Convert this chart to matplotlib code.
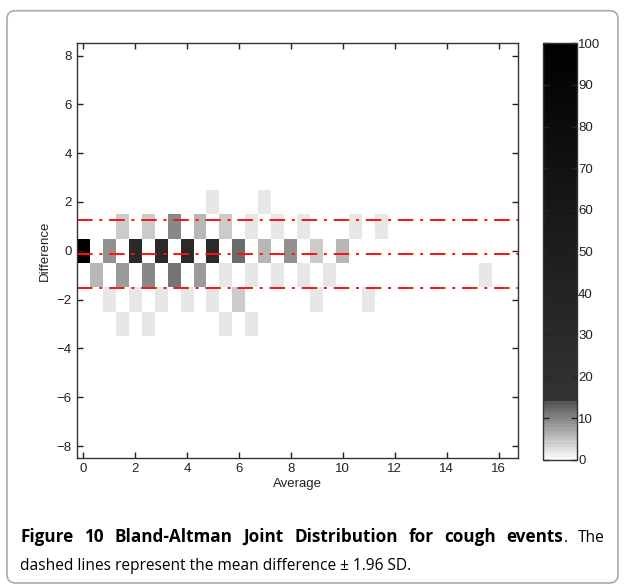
import numpy as np
import matplotlib
matplotlib.use("Agg")
import matplotlib.pyplot as plt
from matplotlib.colors import ListedColormap
from matplotlib.patches import FancyBboxPatch

# joint distribution cells: average, difference, count
avg = [0, 0.5, 1, 1, 1.5, 1.5, 1.5, 2, 2, 2.5, 2.5, 2.5, 3, 3, 3.5, 3.5,
       4, 4, 4.5, 4.5, 5, 5, 5, 5.5, 5.5, 5.5, 6, 6, 6.5, 6.5, 6.5, 7, 7,
       7.5, 7.5, 8, 8.5, 8.5, 9, 9, 9.5, 10, 10.5, 11, 11.5, 15.5]
diff = [0, -1, 0, -2, 1, -1, -3, 0, -2, 1, -1, -3, 0, -2, 1, -1,
        0, -2, 1, -1, 2, 0, -2, 1, -1, -3, 0, -2, 1, -1, -3, 2, 0,
        1, -1, 0, 1, -1, 0, -2, -1, 0, 1, -2, 1, -1]
count = [100, 6, 9, 2, 4, 8, 2, 29, 2, 4, 10, 2, 29, 2, 10, 11,
         29, 2, 6, 8, 2, 29, 2, 4, 2, 2, 12, 4, 2, 2, 2, 2, 6,
         2, 2, 9, 2, 2, 4, 2, 2, 6, 2, 2, 2, 2]

# limits of agreement (mean diff +/- 1.96 SD)
mean_diff = -0.12
upper_loa = 1.28
lower_loa = -1.52

x_ticks = list(range(0, 17, 2))
y_ticks = list(range(-8, 9, 2))
cbar_ticks = list(range(0, 101, 10))

# gray map: stepped light ramp up to ~14, then dark to black
n = 128
vals = (np.arange(n) + 0.5) / n * 100
g = np.where(vals <= 14.4, 1 - 0.67 * vals / 14.0, 0.2 * (100 - vals) / 86.0)
g = np.clip(g, 0, 1)
cmap = ListedColormap(np.stack([g, g, g], axis=1))

# grid of cells
xe = np.arange(-0.25, 16.76, 0.5)
ye = np.arange(-8.5, 8.51, 1.0)
Z = np.full((len(ye) - 1, len(xe) - 1), np.nan)
for a, d, c in zip(avg, diff, count):
    Z[int(round(d + 8)), int(round(a * 2))] = c
Z = np.ma.masked_invalid(Z)

plt.rcParams['font.family'] = ['Liberation Sans', 'DejaVu Sans']

fig = plt.figure(figsize=(6.24, 5.87), dpi=100)
ax = fig.add_axes([76.7 / 624, 1 - 458.3 / 587, (518 - 76.7) / 624, (458.3 - 43.3) / 587])
mesh = ax.pcolormesh(xe, ye, Z, cmap=cmap, vmin=0, vmax=100, edgecolors='none')

for yv in (upper_loa, mean_diff, lower_loa):
    ax.axhline(yv, color='#ff1010', lw=1.4, dashes=(8, 3.5, 1.5, 3.5))

ax.set_xlim(-0.25, 16.75)
ax.set_ylim(-8.5, 8.5)
ax.set_xticks(x_ticks)
ax.set_yticks(y_ticks)
ax.tick_params(direction='in', top=True, right=True, length=4, width=1,
               labelsize=9.5, color='#222222', labelcolor='#222222')
for s in ax.spines.values():
    s.set_color('#333333')
    s.set_linewidth(1)
ax.set_xlabel('Average', fontsize=9.5, color='#222222', labelpad=2)
ax.set_ylabel('Difference', fontsize=9.5, color='#222222', labelpad=4)

cax = fig.add_axes([543.3 / 624, 1 - 460 / 587, (576.7 - 543.3) / 624, (460 - 43.3) / 587])
cb = fig.colorbar(mesh, cax=cax, ticks=cbar_ticks)
cb.outline.set_color('#333333')
cb.outline.set_linewidth(1)
cax.tick_params(direction='in', left=True, right=True, length=4, width=1,
                labelsize=9.5, color='#222222', labelcolor='#222222', pad=1)

# rounded frame
frame = FancyBboxPatch((7 / 624, 1 - 583 / 587), (618 - 7) / 624, (583 - 10.7) / 587,
                       boxstyle='round,pad=0,rounding_size=0.014',
                       transform=fig.transFigure, fill=False, ec='#aaaaaa', lw=1.2)
fig.patches.append(frame)

# caption, first line justified
cap_font = ['Open Sans', 'DejaVu Sans']
size_reg = 11.2
size_bold = 12.3
line1 = [[('Figure', 'bold')], [('10', 'bold')], [('Bland-Altman', 'bold')],
         [('Joint', 'bold')], [('Distribution', 'bold')], [('for', 'bold')],
         [('cough', 'bold')], [('events', 'bold'), ('.', 'normal')], [('The', 'normal')]]
renderer = fig.canvas.get_renderer()
W = fig.bbox.width
x_left, x_right = 20, 605
y1 = 1 - 537 / 587

unit_texts = []
widths = []
for unit in line1:
    parts = []
    w = 0
    for s, wt in unit:
        t = fig.text(0, y1, s, fontsize=size_bold if wt == 'bold' else size_reg,
                     fontweight=wt, family=cap_font, va='baseline', ha='left')
        tw = t.get_window_extent(renderer).width
        parts.append((t, w))
        w += tw
    unit_texts.append(parts)
    widths.append(w)
gap = (x_right - x_left - sum(widths)) / (len(line1) - 1)
x = x_left
for parts, w in zip(unit_texts, widths):
    for t, off in parts:
        t.set_x((x + off) / W)
        t.set_y(1 - 542 / 587)
    x += w + gap

fig.text(x_left / W, 1 - 570 / 587, 'dashed lines represent the mean difference \u00b1 1.96 SD.',
         fontsize=size_reg, family=cap_font, va='baseline', ha='left')

fig.savefig('out.png', dpi=100)
